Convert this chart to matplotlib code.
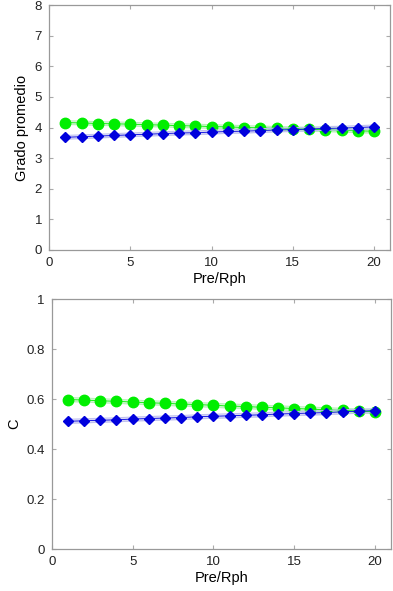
import numpy as np
import matplotlib.pyplot as plt

plt.rcParams['font.family'] = ['Liberation Sans', 'DejaVu Sans']

x = np.arange(1, 21)

# Grado promedio
grado_green = [4.16, 4.15, 4.13, 4.12, 4.11, 4.09, 4.08, 4.06, 4.05, 4.03,
               4.02, 4.00, 3.99, 3.97, 3.96, 3.94, 3.93, 3.91, 3.89, 3.88]
grado_blue = [3.68, 3.70, 3.72, 3.74, 3.76, 3.78, 3.80, 3.82, 3.83, 3.85,
              3.87, 3.88, 3.90, 3.92, 3.93, 3.95, 3.97, 3.98, 4.00, 4.02]
grado_err = 0.06

# C
c_green = [0.598, 0.596, 0.593, 0.591, 0.588, 0.585, 0.583, 0.580, 0.578, 0.575,
           0.572, 0.570, 0.567, 0.565, 0.562, 0.560, 0.557, 0.555, 0.552, 0.549]
c_blue = [0.511, 0.513, 0.515, 0.517, 0.520, 0.522, 0.524, 0.526, 0.529, 0.531,
          0.533, 0.535, 0.537, 0.540, 0.542, 0.544, 0.546, 0.549, 0.551, 0.554]
c_err = 0.008

fig = plt.figure(figsize=(3.93, 5.91), dpi=100)
ax1 = fig.add_axes([0.125, 0.577, 0.868, 0.4145])
ax2 = fig.add_axes([0.132, 0.071, 0.863, 0.423])

def draw(ax, g, b, err, ylim, yticks, ylabel, yfmt):
    g = np.array(g)
    b = np.array(b)
    for y, col, light, mk, ms in [(g, '#00ee00', '#b8f0b8', 'o', 7.5),
                                  (b, '#0000dd', '#c0c0f0', 'D', 5.5)]:
        ax.fill_between(x, y - err, y + err, color=light, alpha=0.6, lw=0)
        ax.plot(x, y - err, color=light, lw=0.8)
        ax.plot(x, y + err, color=light, lw=0.8)
        ax.plot(x, y, color=col, marker=mk, ms=ms, lw=0.6, mec=col)
    ax.set_xlim(0, 21)
    ax.set_ylim(*ylim)
    ax.set_xticks([0, 5, 10, 15, 20])
    ax.set_yticks(yticks)
    ax.set_yticklabels([yfmt(v) for v in yticks])
    ax.tick_params(direction='in', top=True, right=True, length=3,
                   color='#aaaaaa', labelsize=9.5, labelcolor='#222222', pad=5)
    for s in ax.spines.values():
        s.set_color('#999999')
        s.set_linewidth(0.9)
    ax.set_xlabel('Pre/Rph', fontsize=10.5, labelpad=2)
    ax.set_ylabel(ylabel, fontsize=10.5)

draw(ax1, grado_green, grado_blue, grado_err, (0, 8), range(0, 9),
     'Grado promedio', lambda v: str(v))
draw(ax2, c_green, c_blue, c_err, (0, 1), [0, 0.2, 0.4, 0.6, 0.8, 1],
     'C', lambda v: '%g' % v)

fig.savefig('out.png', dpi=100)
